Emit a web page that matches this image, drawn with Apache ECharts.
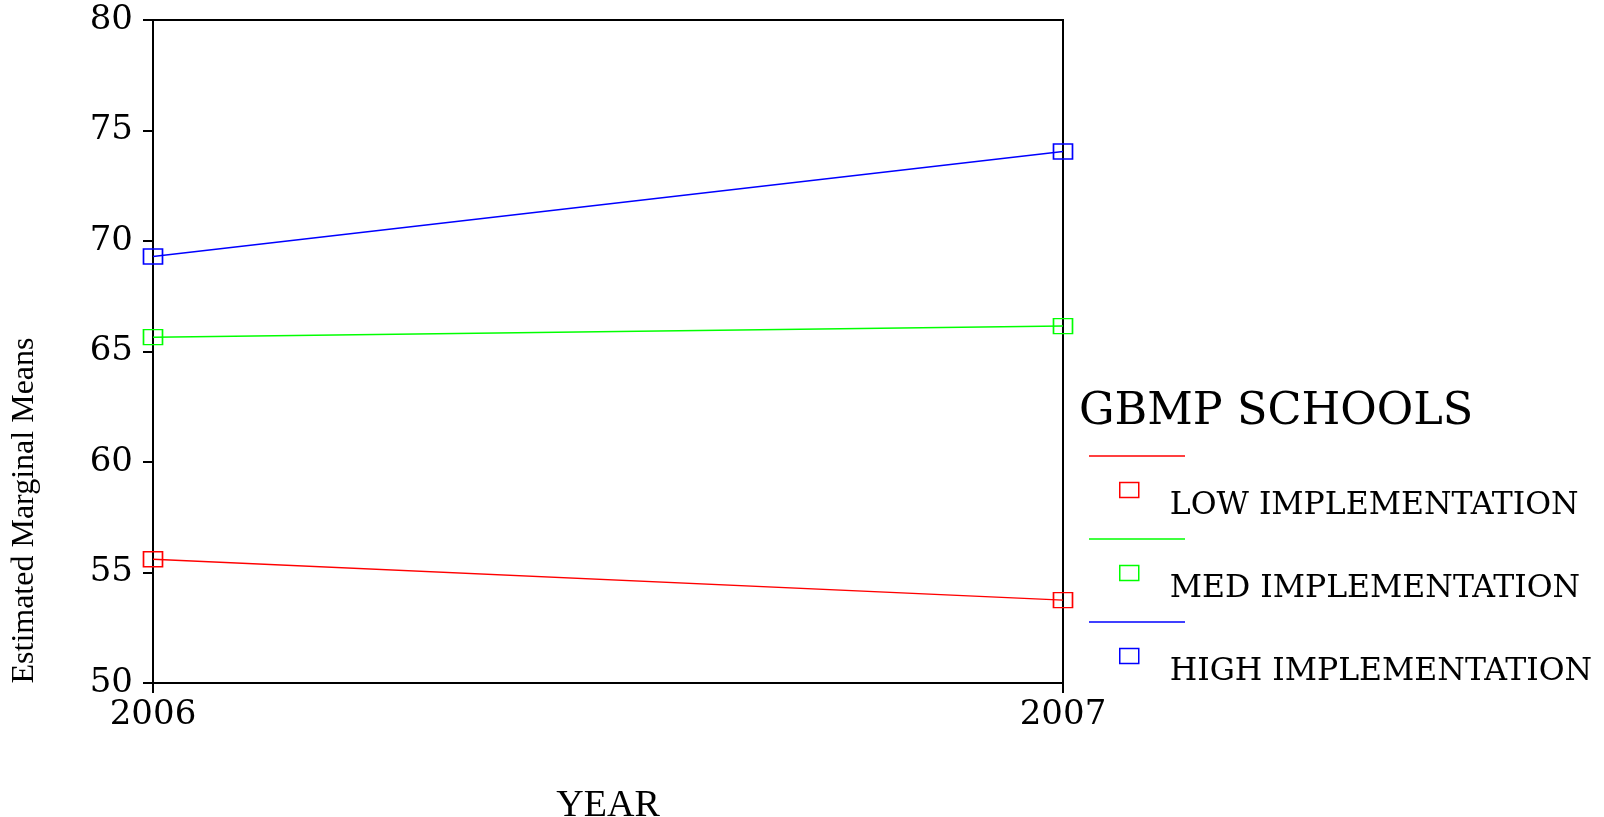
<!DOCTYPE html>
<html>
<head>
<meta charset="utf-8">
<script src="https://cdn.jsdelivr.net/npm/echarts@6/dist/echarts.min.js"></script>
<style>
  html, body { margin: 0; padding: 0; background: #fff; }
  #chart { width: 1604px; height: 817px; }
</style>
</head>
<body>
<div id="chart"></div>
<script>
// data
var years = ['2006', '2007'];
var lowImpl = [55.6, 53.75];
var medImpl = [65.65, 66.15];
var highImpl = [69.3, 74.05];
var seriesNames = ['LOW IMPLEMENTATION', 'MED IMPLEMENTATION', 'HIGH IMPLEMENTATION'];
var seriesColors = ['#ff0000', '#00ff00', '#0000ff'];
var yTicks = { min: 50, max: 80, step: 5 };

var serif = 'Liberation Serif';
var wideSerif = 'DejaVu Serif';

function makeSeries(name, data, color) {
  return {
    name: name,
    type: 'line',
    data: data,
    symbol: 'rect',
    symbolSize: [19, 15],
    showSymbol: true,
    lineStyle: { color: color, width: 1.5 },
    itemStyle: { color: 'rgba(255,255,255,0)', borderColor: color, borderWidth: 1.5 },
    emphasis: { disabled: true },
    animation: false
  };
}

var chart = echarts.init(document.getElementById('chart'), null, { renderer: 'canvas' });

var option = {
  backgroundColor: '#fff',
  animation: false,
  title: {
    text: 'GBMP SCHOOLS',
    left: 1074,
    top: 385,
    textStyle: { fontFamily: wideSerif, fontSize: 44.5, fontWeight: 'normal', color: '#000' }
  },
  legend: {
    orient: 'vertical',
    left: 1114,
    top: 453,
    icon: 'rect',
    itemWidth: 19,
    itemHeight: 15,
    itemGap: 19,
    selectedMode: false,
    data: seriesNames.map(function (n, i) {
      return { name: n, itemStyle: { color: 'rgba(255,255,255,0)', borderColor: seriesColors[i], borderWidth: 1.5 } };
    }),
    formatter: function (name) { return '\n' + name; },
    textStyle: {
      fontFamily: wideSerif,
      fontSize: 31.5,
      lineHeight: 32,
      color: '#000',
      padding: [0, 0, 0, 26]
    }
  },
  grid: {
    left: 153,
    right: 541,
    top: 20,
    bottom: 134,
    outerBoundsMode: 'none',
    show: true,
    borderColor: '#000',
    borderWidth: 2,
    backgroundColor: 'transparent'
  },
  xAxis: {
    type: 'category',
    boundaryGap: false,
    data: years,
    name: 'YEAR',
    nameLocation: 'middle',
    nameGap: 104,
    nameTextStyle: { fontFamily: serif, fontSize: 38, color: '#000' },
    axisLine: { lineStyle: { color: '#000', width: 2 } },
    axisTick: { show: true, length: 10, lineStyle: { color: '#000', width: 2 } },
    axisLabel: { fontFamily: wideSerif, fontSize: 34, color: '#000', margin: 15 },
    splitLine: { show: false }
  },
  yAxis: {
    type: 'value',
    min: yTicks.min,
    max: yTicks.max,
    interval: yTicks.step,
    name: 'Estimated Marginal Means',
    nameLocation: 'middle',
    nameGap: 112,
    nameTextStyle: { fontFamily: serif, fontSize: 32, color: '#000', padding: [0, 318, 0, 0] },
    axisLine: { show: true, lineStyle: { color: '#000', width: 2 } },
    axisTick: { show: true, length: 10, lineStyle: { color: '#000', width: 2 } },
    axisLabel: { fontFamily: wideSerif, fontSize: 34, color: '#000', margin: 20, padding: [4, 0, 0, 0] },
    splitLine: { show: false }
  },
  graphic: seriesColors.map(function (c, i) {
    return {
      type: 'line',
      shape: { x1: 1089, y1: 456 + i * 83, x2: 1185, y2: 456 + i * 83 },
      style: { stroke: c, lineWidth: 1.5 },
      silent: true
    };
  }),
  series: [
    makeSeries(seriesNames[0], lowImpl, seriesColors[0]),
    makeSeries(seriesNames[1], medImpl, seriesColors[1]),
    makeSeries(seriesNames[2], highImpl, seriesColors[2])
  ]
};

chart.setOption(option);
</script>
</body>
</html>
